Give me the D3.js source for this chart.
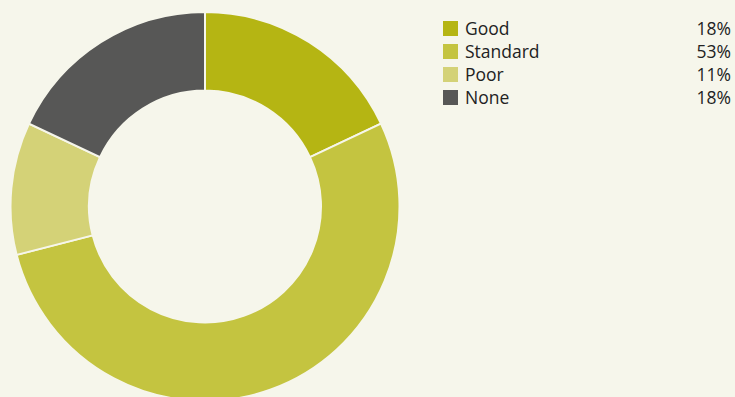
<!DOCTYPE html>
<html>
<head>
<meta charset="utf-8">
<script src="https://cdn.jsdelivr.net/npm/d3@7"></script>
<style>
  body { margin: 0; background: #f6f6eb; }
  svg { display: block; font-family: "Open Sans", sans-serif; }
</style>
</head>
<body>
<svg id="chart"></svg>
<script>
// Datos
const categories = ["Good", "Standard", "Poor", "None"];
const values = [18, 53, 11, 18];
const labels = ["18%", "53%", "11%", "18%"];
const colors = ["#b5b513", "#c4c440", "#d4d277", "#575756"];

const width = 735, height = 397;
const cx = 205, cy = 206.5;
const outerR = 194.5, innerR = 116;

const svg = d3.select("#chart")
    .attr("width", width)
    .attr("height", height);

svg.append("rect")
    .attr("width", width)
    .attr("height", height)
    .attr("fill", "#f6f6eb");

const data = categories.map((c, i) => ({ name: c, value: values[i], label: labels[i], color: colors[i] }));

const pie = d3.pie().value(d => d.value).sort(null);
const arc = d3.arc().innerRadius(innerR).outerRadius(outerR);

const g = svg.append("g")
    .attr("transform", `translate(${cx}, ${cy})`);

g.selectAll("path")
    .data(pie(data))
    .join("path")
    .attr("d", arc)
    .attr("fill", d => d.data.color)
    .attr("stroke", "#f6f6eb")
    .attr("stroke-width", 2);

// Leyenda
const legend = svg.append("g")
    .attr("transform", "translate(443, 21)");

const row = legend.selectAll("g")
    .data(data)
    .join("g")
    .attr("transform", (d, i) => `translate(0, ${i * 23})`);

row.append("rect")
    .attr("width", 15)
    .attr("height", 15)
    .attr("fill", d => d.color);

row.append("text")
    .attr("x", 22)
    .attr("y", 13.5)
    .attr("font-size", 17.5)
    .attr("fill", "#222")
    .text(d => d.name);

row.append("text")
    .attr("x", 731 - 443)
    .attr("y", 13.5)
    .attr("text-anchor", "end")
    .attr("font-size", 17.5)
    .attr("fill", "#222")
    .text(d => d.label);
</script>
</body>
</html>
